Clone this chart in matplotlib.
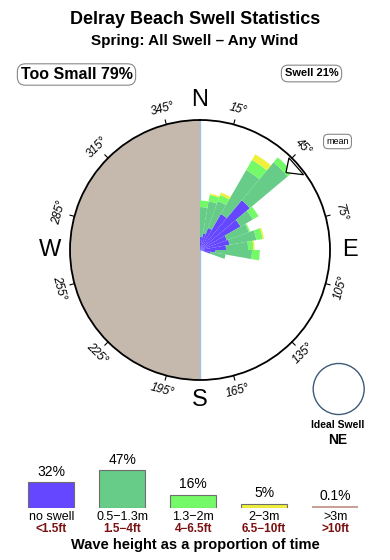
import numpy as np
import matplotlib
matplotlib.use("Agg")
import matplotlib.pyplot as plt
from matplotlib.patches import FancyBboxPatch, Circle, Polygon

plt.rcParams['font.family'] = ['Liberation Sans', 'DejaVu Sans']

# ---------------- data ----------------
title = "Delray Beach Swell Statistics"
subtitle = "Spring: All Swell \u2013 Any Wind"
too_small_label = "Too Small 79%"
swell_label = "Swell 21%"
ideal_dir = "NE"
mean_dir = 48.5

dir_centers = [5, 15, 25, 35, 45, 55, 65, 75, 85, 95, 105]
no_swell   = [0.10, 0.13, 0.18, 0.32, 0.50, 0.36, 0.22, 0.23, 0.20, 0.12, 0.08]
small      = [0.23, 0.25, 0.22, 0.39, 0.38, 0.11, 0.18, 0.21, 0.17, 0.28, 0.12]
medium     = [0.05, 0.05, 0.05, 0.09, 0.05, 0.05, 0.01, 0.05, 0.04, 0.06, 0.00]
large      = [0.00, 0.01, 0.02, 0.05, 0.00, 0.00, 0.00, 0.01, 0.01, 0.00, 0.00]

deg_ticks = [15, 45, 75, 105, 135, 165, 195, 225, 255, 285, 315, 345]
cardinals = ["N", "E", "S", "W"]
cardinal_angles = [0, 90, 180, 270]

cat_pct = [32, 47, 16, 5, 0.1]
cat_pct_labels = ["32%", "47%", "16%", "5%", "0.1%"]
cat_m = ["no swell", "0.5\u22121.3m", "1.3\u22122m", "2\u22123m", ">3m"]
cat_ft = ["<1.5ft", "1.5\u22124ft", "4\u22126.5ft", "6.5\u221210ft", ">10ft"]
legend_title = "Wave height as a proportion of time"

# ---------------- style ----------------
c_blue = "#6447ff"
c_green = "#66cc88"
c_lgreen = "#74fa68"
c_yellow = "#f0f03c"
c_xl = "#c8a096"
c_land = "#c4b9ac"
c_red = "#7a1010"
band_colors = [c_blue, c_green, c_lgreen, c_yellow]

W, H = 390, 560
fig = plt.figure(figsize=(W / 100, H / 100), dpi=100)


def fx(x):
    return x / W


def fy(y):
    return 1 - y / H


# titles
fig.text(fx(195), fy(19), title, ha='center', va='center', fontsize=13, fontweight='bold')
fig.text(fx(195), fy(41), subtitle, ha='center', va='center', fontsize=11, fontweight='bold')

# boxes
fig.text(fx(76.5), fy(74.5), too_small_label, ha='center', va='center', fontsize=11.5,
         fontweight='bold',
         bbox=dict(boxstyle='round,pad=0.2,rounding_size=0.5', fc='white', ec='#888888', lw=0.8))
fig.text(fx(311.5), fy(73.5), swell_label, ha='center', va='center', fontsize=8,
         fontweight='bold',
         bbox=dict(boxstyle='round,pad=0.3,rounding_size=0.6', fc='white', ec='#888888', lw=0.8))
fig.text(fx(337.5), fy(141.5), "mean", ha='center', va='center', fontsize=6.5,
         bbox=dict(boxstyle='round,pad=0.3,rounding_size=0.5', fc='white', ec='#888888', lw=0.8))

# ---------------- rose ----------------
cx, cy, R = 200, 250, 130
ax = fig.add_axes([(cx - R) / W, (H - cy - R) / H, 2 * R / W, 2 * R / H], projection='polar')
ax.set_theta_zero_location('N')
ax.set_theta_direction(-1)
ax.set_ylim(0, 1)
ax.grid(False)
ax.set_xticks([])
ax.set_yticks([])
ax.spines['polar'].set_linewidth(1.3)
ax.spines['polar'].set_color('black')

# land (western half)
ax.bar(np.deg2rad(270), 1, width=np.pi, color=c_land, edgecolor='none', zorder=1)
ax.plot([0, 0], [0, 1], color='#9ec3e6', lw=1, zorder=2)
ax.plot([np.pi, np.pi], [0, 1], color='#9ec3e6', lw=1, zorder=2)

theta = np.deg2rad(dir_centers)
wid = np.deg2rad(10)
bottom = np.zeros(len(dir_centers))
for vals, col in zip([no_swell, small, medium, large], band_colors):
    v = np.array(vals)
    ax.bar(theta, v, width=wid, bottom=bottom, color=col, edgecolor='none', zorder=3)
    bottom = bottom + v

# mean marker
mtheta = [np.deg2rad(mean_dir - 4.5), np.deg2rad(mean_dir - 0.5), np.deg2rad(mean_dir + 5.5)]
mr = [0.985, 0.89, 0.985]
ax.add_patch(Polygon(np.column_stack([mtheta, mr]), closed=True, fc='white', ec='black',
                     lw=0.9, zorder=5, transform=ax.transData))

# degree ticks and labels
for d in deg_ticks:
    t = np.deg2rad(d)
    ax.plot([t, t], [1.0, 1.035], color='black', lw=0.8, clip_on=False, zorder=4)
    rot = -d
    while rot <= -90:
        rot += 180
    while rot > 90:
        rot -= 180
    ax.text(t, 1.12, f"{d}\u00b0", ha='center', va='center', rotation=rot,
            rotation_mode='anchor', fontsize=8.5, fontstyle='italic', clip_on=False)

for lab, a in zip(cardinals, cardinal_angles):
    ax.text(np.deg2rad(a), 1.155, lab, ha='center', va='center', fontsize=17, clip_on=False)

# ideal swell circle
fig.patches.append(Circle((fx(338.7), fy(389)), 25.5 / W, transform=fig.transFigure,
                          fc='none', ec='#3d5a78', lw=1.0))
# keep circle round: use an axes instead
fig.patches.pop()
axc = fig.add_axes([fx(338.7 - 27), fy(389 + 27), 54 / W, 54 / H])
axc.set_xlim(-27, 27)
axc.set_ylim(-27, 27)
axc.add_patch(Circle((0, 0), 25.5, fc='none', ec='#3d5a78', lw=1.0))
axc.axis('off')
fig.text(fx(338), fy(425), "Ideal Swell", ha='center', va='center', fontsize=7.5, fontweight='bold')
fig.text(fx(338), fy(440), ideal_dir, ha='center', va='center', fontsize=10, fontweight='bold')

# ---------------- legend bars ----------------
px_per_pct = 0.8
spacing = 71.0
bar_bottom_px = 507.7
left_px = 51.2 - spacing / 2
axl = fig.add_axes([fx(left_px), fy(bar_bottom_px), 5 * spacing / W, 50 / H])
axl.set_xlim(-0.5, 4.5)
axl.set_ylim(0, 50 / px_per_pct)
axl.axis('off')
xs = np.arange(len(cat_pct))
leg_colors = [c_blue, c_green, c_lgreen, c_yellow, c_xl]
for i in xs:
    if cat_pct[i] >= 1:
        axl.bar(i, cat_pct[i], width=0.64, color=leg_colors[i], edgecolor='#6e6e6e', lw=0.8)
    else:
        axl.bar(i, max(cat_pct[i], 1.6), width=0.64, color=leg_colors[i], edgecolor='none')
    axl.annotate(cat_pct_labels[i], (i, max(cat_pct[i], 1.6)), xytext=(0, 2.5),
                 textcoords='offset points', ha='center', va='bottom', fontsize=10,
                 annotation_clip=False)
    axl.text(i, -(517.5 - bar_bottom_px) / px_per_pct, cat_m[i], ha='center', va='center',
             fontsize=9, clip_on=False)
    axl.text(i, -(529.5 - bar_bottom_px) / px_per_pct, cat_ft[i], ha='center', va='center',
             fontsize=8.5, fontweight='bold', color=c_red, clip_on=False)

fig.text(fx(195), fy(545), legend_title, ha='center', va='center', fontsize=10.5,
         fontweight='bold')

fig.savefig("out.png", dpi=100)
